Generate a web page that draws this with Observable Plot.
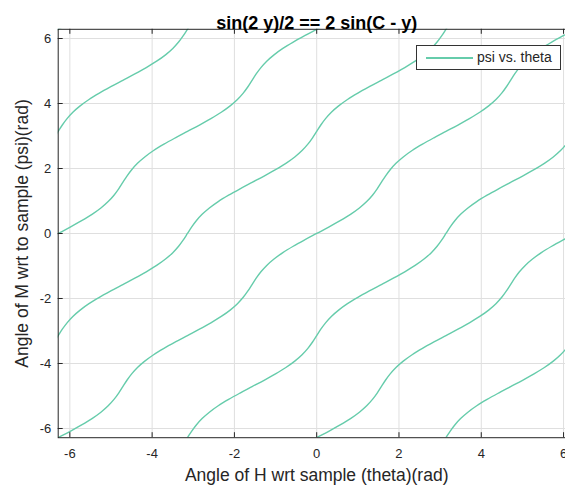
<!DOCTYPE html>
<html><head><meta charset="utf-8">
<script src="https://cdn.jsdelivr.net/npm/d3@7"></script>
<script src="https://cdn.jsdelivr.net/npm/@observablehq/plot@0.6"></script>
<style>
html,body{margin:0;padding:0;background:#fff;overflow:hidden;width:565px;height:493px}
#wrap{position:relative;width:565px;height:493px;overflow:hidden}
#wrap svg{max-width:none !important;display:block}
#legend{position:absolute;left:416px;top:45px;width:145px;height:25px;border:1px solid #333;background:#fff;box-sizing:border-box;font:14px "Liberation Sans",Arial,sans-serif;color:#262626}
#legend .ln{position:absolute;left:9px;top:11px;width:47px;height:2px;background:#66ccab}
#legend .tx{position:absolute;left:60px;top:3px;white-space:nowrap}
</style></head><body><div id="wrap"><div id="legend"><div class="ln"></div><div class="tx"></div></div></div>
<script>
const title = "sin(2 y)/2 == 2 sin(C - y)";
const xLabel = "Angle of H wrt sample (theta)(rad)";
const yLabel = "Angle of M wrt to sample (psi)(rad)";
const seriesName = "psi vs. theta";
const xTicks = [-6, -4, -2, 0, 2, 4, 6];
const yTicks = [-6, -4, -2, 0, 2, 4, 6];
// one period of the curve (from (0,0) to (pi,pi))
const psiBase   = [0, 0.196, 0.393, 0.589, 0.785, 0.982, 1.178, 1.374, 1.571, 1.767, 1.963, 2.160, 2.356, 2.553, 2.749, 2.945, 3.142];
const thetaBase = [0, 0.292, 0.570, 0.822, 1.038, 1.215, 1.356, 1.470, 1.571, 1.671, 1.786, 1.927, 2.104, 2.319, 2.571, 2.849, 3.142];
// each branch is the base curve shifted by (n*pi/2, -n*pi/2); periods repeat by (pi, pi)
const curveShifts = [-4, -3, -2, -1, 0, 1, 2, 3, 4];
const periodShifts = [-5, -4, -3, -2, -1, 0, 1, 2, 3, 4, 5];

(function () {
  const PI = Math.PI;
  const rows = [];
  for (const n of curveShifts) {
    periodShifts.forEach((m, mi) => {
      thetaBase.forEach((t, i) => {
        if (mi > 0 && i === 0) return;
        rows.push({curve: n, theta: t + m * PI + n * PI / 2, psi: psiBase[i] + m * PI - n * PI / 2});
      });
    });
  }

  const W = 580, H = 493;
  const fLeft = 57.7, fRight = 574.7, fTop = 28.8, fBottom = 437.2;
  const fw = fRight - fLeft, fh = fBottom - fTop;
  const ink = "#262626";
  const lineColor = "#66ccab";
  const font = '"Liberation Sans", Arial, Helvetica, sans-serif';

  const chart = Plot.plot({
    width: W, height: H,
    marginLeft: fLeft, marginRight: W - fRight, marginTop: fTop, marginBottom: H - fBottom,
    x: {domain: [-2 * PI, 2 * PI]},
    y: {domain: [-2 * PI, 2 * PI]},
    style: {fontFamily: font, fontSize: "13px", color: ink, background: "white", maxWidth: "none", overflow: "visible"},
    marks: [
      Plot.gridX(xTicks, {stroke: "#dfdfdf", strokeOpacity: 1}),
      Plot.gridY(yTicks, {stroke: "#dfdfdf", strokeOpacity: 1}),
      Plot.line(rows, {x: "theta", y: "psi", z: "curve", stroke: lineColor, strokeWidth: 1.4, curve: "catmull-rom", clip: true}),
      Plot.frame({stroke: ink}),
      Plot.tickX(xTicks, {x: d => d, insetTop: fh - 5, stroke: ink}),
      Plot.tickX(xTicks, {x: d => d, insetBottom: fh - 5, stroke: ink}),
      Plot.tickY(yTicks, {y: d => d, insetRight: fw - 5, stroke: ink}),
      Plot.tickY(yTicks, {y: d => d, insetLeft: fw - 5, stroke: ink}),
      Plot.axisX(xTicks, {tickSize: 0, tickPadding: 11, label: null, tickFormat: d => String(d), fontSize: 13}),
      Plot.axisY(yTicks, {tickSize: 0, tickPadding: 7, label: null, tickFormat: d => String(d), fontSize: 13}),
      Plot.text([xLabel], {text: d => d, frameAnchor: "bottom", dy: 43, fontSize: 17.5, fill: ink}),
      Plot.text([yLabel], {text: d => d, frameAnchor: "left", textAnchor: "middle", dx: -36, rotate: -90, fontSize: 17.5, fill: ink}),
      Plot.text([title], {text: d => d, frameAnchor: "top", dy: -13, fontSize: 18, fontWeight: "bold", fill: "#000"})
    ]
  });
  document.getElementById("wrap").prepend(chart);
  document.querySelector("#legend .tx").textContent = seriesName;
})();
</script>
</body></html>
